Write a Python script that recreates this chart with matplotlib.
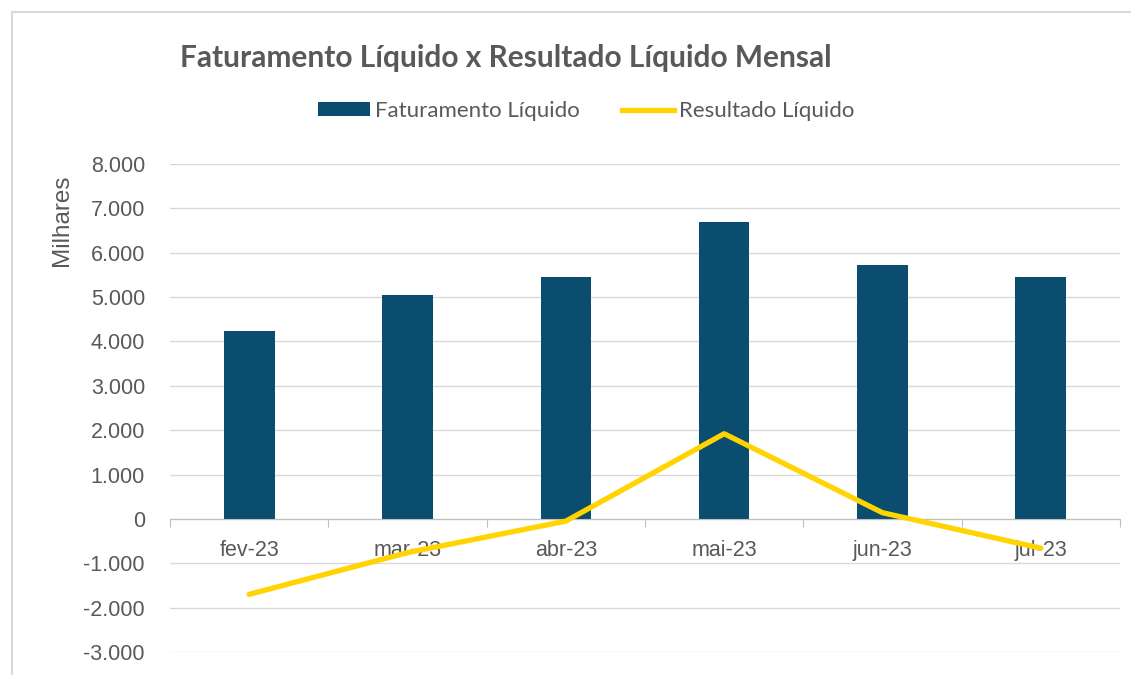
import matplotlib
matplotlib.use("Agg")
import matplotlib.pyplot as plt
from matplotlib.ticker import FuncFormatter, FixedLocator
from matplotlib.patches import Rectangle, Patch
from matplotlib.lines import Line2D
import numpy as np

# values in thousands (axis labelled "Milhares")
months = ["fev-23", "mar-23", "abr-23", "mai-23", "jun-23", "jul-23"]
faturamento = [4230, 5050, 5450, 6700, 5720, 5450]
resultado = [-1700, -760, -50, 1920, 140, -660]
y_ticks = [-3000, -2000, -1000, 0, 1000, 2000, 3000, 4000, 5000, 6000, 7000, 8000]

plt.rcParams['font.family'] = ['Liberation Sans', 'DejaVu Sans']
gray = '#595959'
bar_color = '#0b4d6e'
line_color = '#ffd400'

fig = plt.figure(figsize=(11.31, 6.75), dpi=100)
ax = fig.add_axes([170 / 1131, 1 - 652 / 675, 950 / 1131, 488 / 675])

x = np.arange(len(months))
ax.bar(x, faturamento, width=0.32, color=bar_color, zorder=2)
ax.plot(x, resultado, color=line_color, linewidth=3.8, zorder=3, solid_capstyle='round')

ax.set_xlim(-0.5, len(months) - 0.5)
ax.set_ylim(-3000, 8000)
ax.set_yticks(y_ticks)
ax.yaxis.set_major_formatter(FuncFormatter(lambda v, p: f"{int(v):,}".replace(",", ".")))
ax.grid(axis='y', color='#d9d9d9', linewidth=1, zorder=0)
ax.tick_params(axis='y', length=0, labelsize=15.5, labelcolor=gray, pad=18)

# category axis sits on zero
ax.spines['bottom'].set_position(('data', 0))
ax.spines['bottom'].set_color('#bfbfbf')
for s in ['top', 'right', 'left']:
    ax.spines[s].set_visible(False)
ax.xaxis.set_major_locator(FixedLocator(np.arange(-0.5, len(months), 1.0)))
ax.xaxis.set_major_formatter(FuncFormatter(lambda v, p: ""))
ax.xaxis.set_minor_locator(FixedLocator(x))
ax.set_xticklabels(months, minor=True)
ax.tick_params(axis='x', which='major', length=6, color='#bfbfbf', direction='out')
ax.tick_params(axis='x', which='minor', length=0, labelsize=15.5, labelcolor=gray, pad=15)

fig.text(62 / 1131, 1 - 220 / 675, "Milhares", rotation=90, ha='center', va='center',
         fontsize=17.5, color=gray)

fig.text(180 / 1131, 1 - 58 / 675, "Faturamento Líquido x Resultado Líquido Mensal",
         ha='left', va='center', fontsize=21.5, fontweight='bold', color=gray,
         family=['Lato', 'DejaVu Sans'])

handles = [Patch(facecolor=bar_color), Line2D([0], [0], color=line_color, linewidth=3.8)]
fig.legend(handles, ["Faturamento Líquido", "Resultado Líquido"], loc='center',
           bbox_to_anchor=(586 / 1131, 1 - 111 / 675), ncol=2, frameon=False,
           prop={'family': ['Lato', 'DejaVu Sans'], 'size': 16}, labelcolor=gray,
           handlelength=2.34, handleheight=0.55, handletextpad=0.23, columnspacing=1.9)

# chart border
fig.patches.append(Rectangle((12 / 1131, -0.01), 1.2, 1 - 12 / 675 + 0.01,
                             transform=fig.transFigure, fill=False,
                             edgecolor='#d9d9d9', linewidth=1.5))

fig.savefig("out.png", dpi=100)
